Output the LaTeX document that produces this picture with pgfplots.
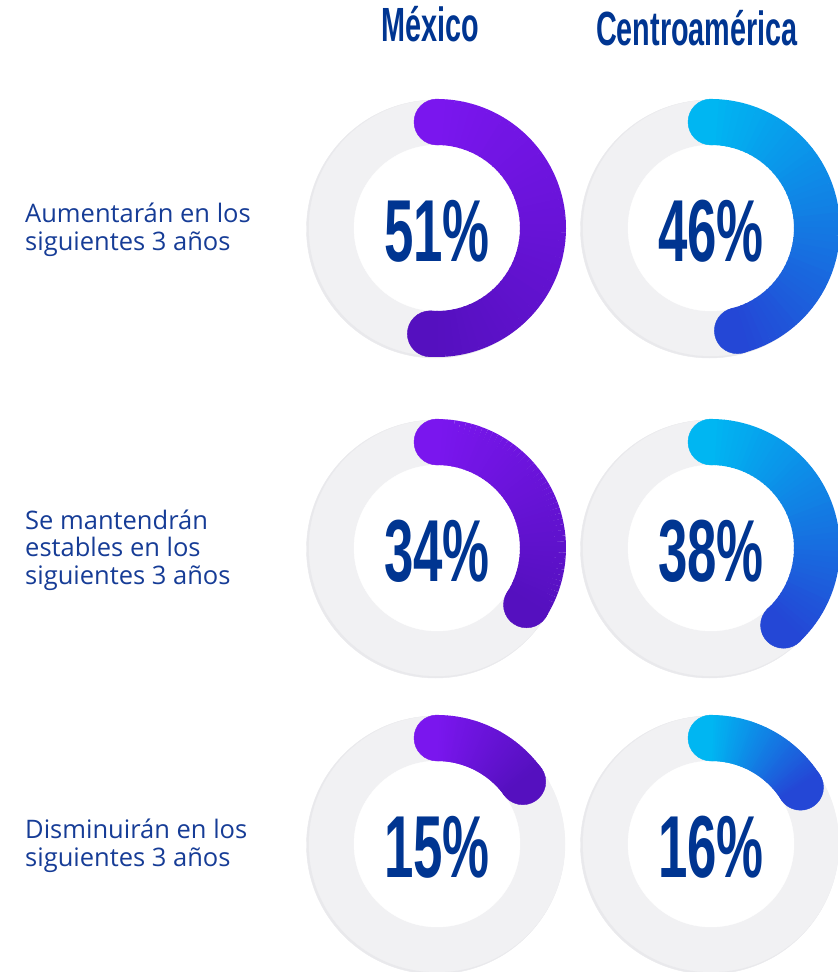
\documentclass[border=0pt]{standalone}
\usepackage{fontspec}
\setmainfont{Open Sans}
\newfontfamily\cond[FakeStretch=0.6]{Liberation Sans}
\usepackage{pgfplots}
\pgfplotsset{compat=1.18}
\usepackage{pgfplotstable}

\definecolor{txtblue}{RGB}{0,53,145}
\definecolor{lblblue}{RGB}{22,60,150}
\definecolor{mxa}{RGB}{122,22,238}
\definecolor{mxb}{RGB}{85,16,191}
\definecolor{caa}{RGB}{0,182,242}
\definecolor{cab}{RGB}{36,71,214}
\definecolor{ring}{RGB}{241,241,243}
\definecolor{ringedge}{RGB}{233,233,236}

% one donut per row: centre (px) and share (%)
\pgfplotstableread{
x y v
437 228 51
437 548 34
437 844 15
}\mexico
\pgfplotstableread{
x y v
711 228 46
711 548 38
711 844 16
}\centro

% #1 value, #2 start colour, #3 end colour
\newcommand\donut[3]{%
  \fill[ringedge] (-1.5pt,-1pt) circle[radius=129pt];
  \fill[ring] (0,0) circle[radius=128pt];
  \fill[white] (0,0) circle[radius=83pt];
  \pgfmathsetmacro\sweep{3.6*#1}%
  \pgfmathsetmacro\endang{90-\sweep}%
  \pgfmathtruncatemacro\pctint{round(#1)}%
  \fill[#2] (90:106pt) circle[radius=23pt];
  \fill[#3] (\endang:106pt) circle[radius=23pt];
  \foreach \i in {0,...,47}{%
    \pgfmathsetmacro\aa{90-\sweep*\i/48}%
    \pgfmathsetmacro\bb{90-\sweep*(\i+1)/48-0.5}%
    \pgfmathtruncatemacro\mix{100-100*\i/47}%
    \draw[line width=46pt, #2!\mix!#3] (\aa:106pt) arc[start angle=\aa, end angle=\bb, radius=106pt];
  }%
  \node[txtblue, inner sep=0pt] at (0,-3pt) {\fontsize{88}{88}\selectfont\cond\bfseries \pctint\%};
}

\begin{document}
\begin{tikzpicture}
\begin{axis}[width=838pt, height=972pt, scale only axis,
  xmin=0, xmax=838, ymin=0, ymax=972, y dir=reverse,
  hide axis, clip=false]
\addplot[scatter, only marks, mark=*, mark size=0pt,
  point meta=explicit,
  visualization depends on={\thisrow{v}\as\pct},
  scatter/@pre marker code/.code={\donut{\pct}{mxa}{mxb}},
  scatter/@post marker code/.code={}]
  table[x=x, y=y, meta=v] {\mexico};
\addplot[scatter, only marks, mark=*, mark size=0pt,
  point meta=explicit,
  visualization depends on={\thisrow{v}\as\pct},
  scatter/@pre marker code/.code={\donut{\pct}{caa}{cab}},
  scatter/@post marker code/.code={}]
  table[x=x, y=y, meta=v] {\centro};

\node[txtblue, inner sep=0pt] at (axis cs:430,24) {\fontsize{48}{48}\selectfont\cond\bfseries México};
\node[txtblue, inner sep=0pt] at (axis cs:697,28) {\fontsize{48}{48}\selectfont\cond\bfseries Centroamérica};

\begin{scope}[every node/.style={lblblue, inner sep=0pt, anchor=west, align=left,
    font=\fontsize{25.5}{27.5}\selectfont}]
\node at (axis cs:25,230) {Aumentarán en los\\siguientes 3 años};
\node at (axis cs:25,550) {Se mantendrán\\estables en los\\siguientes 3 años};
\node at (axis cs:25,846) {Disminuirán en los\\siguientes 3 años};
\end{scope}
\end{axis}
\pgfresetboundingbox
\path[use as bounding box] (0,0) rectangle (838pt,972pt);
\end{tikzpicture}
\end{document}
